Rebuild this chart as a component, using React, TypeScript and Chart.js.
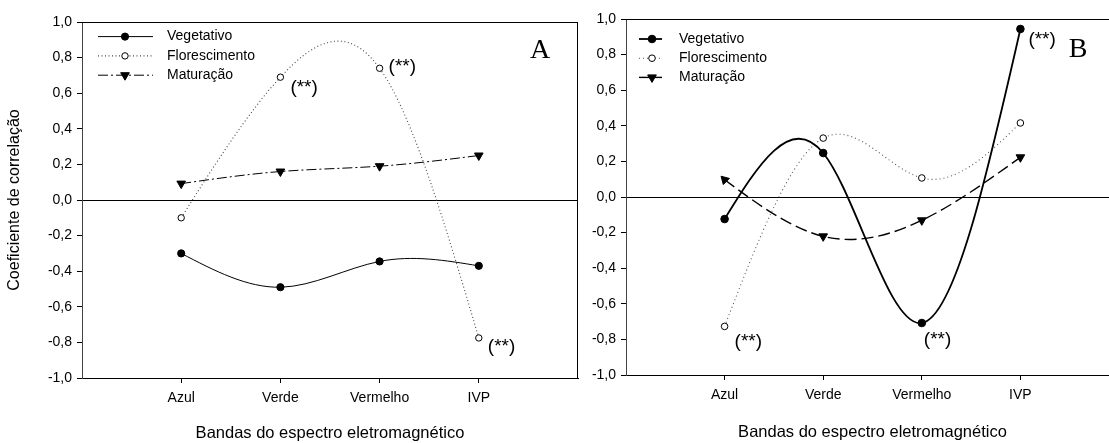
import React, { useEffect, useRef } from 'react';
import { Chart, registerables } from 'chart.js';

Chart.register(...registerables);

// ---------------- data ----------------
const CATEGORIES = ['Azul', 'Verde', 'Vermelho', 'IVP'];
const SERIES_NAMES = ['Vegetativo', 'Florescimento', 'Maturação'];
const Y_TICKS = [-1.0, -0.8, -0.6, -0.4, -0.2, 0.0, 0.2, 0.4, 0.6, 0.8, 1.0];

const A_VEGETATIVO = [-0.30, -0.49, -0.345, -0.37];
const A_FLORESCIMENTO = [-0.10, 0.69, 0.74, -0.775];
const A_MATURACAO = [0.092, 0.16, 0.19, 0.25];

const B_VEGETATIVO = [-0.124, 0.247, -0.708, 0.944];
const B_FLORESCIMENTO = [-0.727, 0.331, 0.107, 0.416];
const B_MATURACAO = [0.097, -0.221, -0.131, 0.223];

// significant points: [series index, category index]
const A_SIGNIFICANT = [[1, 1], [1, 2], [1, 3]];
const B_SIGNIFICANT = [[0, 3], [1, 0], [0, 2]];
const SIGNIF_LABEL = '(**)';

const X_TITLE = 'Bandas do espectro eletromagnético';
const Y_TITLE = 'Coeficiente de correlação';

// ---------------- styles / layout ----------------
const SANS = "'Liberation Sans', Arial, Helvetica, sans-serif";
const SERIF = "'Liberation Serif', 'Times New Roman', serif";

type SeriesStyle = {
  color: string;
  width: number;
  dash: number[];
  legendDash: number[];
  marker: 'circle' | 'triangle';
  radius: number;
  fill: string;
  rotation: number[];
};

type PanelSpec = {
  letter: string;
  series: number[][];
  styles: SeriesStyle[];
  significant: number[][];
  signifOffsets: number[][];
  left: number;
  width: number;
  padTop: number;
  padRight: number;
  yAxisWidth: number;
  xAxisHeight: number;
  xTitlePadBottom: number;
  showYTitle: boolean;
  rightBorder: boolean;
  letterPos: number[];
  legend: { x0: number; x1: number; mx: number; tx: number; y0: number; dy: number };
};

const PANELS: PanelSpec[] = [
  {
    letter: 'A',
    series: [A_VEGETATIVO, A_FLORESCIMENTO, A_MATURACAO],
    styles: [
      { color: '#000', width: 1, dash: [], legendDash: [], marker: 'circle', radius: 3.6, fill: '#000', rotation: [0, 0, 0, 0] },
      { color: '#444', width: 1.1, dash: [1, 2.5], legendDash: [1, 2.5], marker: 'circle', radius: 3.2, fill: '#fff', rotation: [0, 0, 0, 0] },
      { color: '#000', width: 1, dash: [10, 3, 2, 3], legendDash: [10, 3, 2, 3], marker: 'triangle', radius: 5, fill: '#000', rotation: [180, 180, 180, 180] },
    ],
    significant: A_SIGNIFICANT,
    signifOffsets: [[10, 11], [9, -2], [9, 9]],
    left: 0,
    width: 590,
    padTop: 22,
    padRight: 12,
    yAxisWidth: 82,
    xAxisHeight: 65,
    xTitlePadBottom: 0,
    showYTitle: true,
    rightBorder: true,
    letterPos: [458, 29],
    legend: { x0: 16, x1: 71, mx: 43, tx: 85, y0: 14.6, dy: 19.3 },
  },
  {
    letter: 'B',
    series: [B_VEGETATIVO, B_FLORESCIMENTO, B_MATURACAO],
    styles: [
      { color: '#000', width: 1.8, dash: [], legendDash: [], marker: 'circle', radius: 3.8, fill: '#000', rotation: [0, 0, 0, 0] },
      { color: '#555', width: 1.1, dash: [1, 3], legendDash: [1, 3], marker: 'circle', radius: 3.3, fill: '#fff', rotation: [0, 0, 0, 0] },
      { color: '#000', width: 1.4, dash: [12, 5], legendDash: [], marker: 'triangle', radius: 5, fill: '#000', rotation: [315, 180, 180, 180] },
    ],
    significant: B_SIGNIFICANT,
    signifOffsets: [[8, 11], [10, 15], [2, 17]],
    left: 590,
    width: 535,
    padTop: 19,
    padRight: 4,
    yAxisWidth: 36,
    xAxisHeight: 68,
    xTitlePadBottom: 1,
    showYTitle: false,
    rightBorder: false,
    letterPos: [452, 31],
    legend: { x0: 13, x1: 36, mx: 26, tx: 53, y0: 20, dy: 19.2 },
  },
];

const fmt = (v: number) => {
  const r = Math.round(v * 10) / 10;
  return (r === 0 ? 0 : r).toFixed(1).replace('.', ',');
};

// Natural cubic spline (like SigmaPlot's spline curves) -> bezier control points
function applyNaturalSpline(pts: any[]) {
  const n = pts.length;
  if (n < 3) return;
  const x = pts.map((p) => p.x);
  const y = pts.map((p) => p.y);
  const h: number[] = [];
  for (let i = 0; i < n - 1; i++) h.push(x[i + 1] - x[i]);
  // solve tridiagonal for second derivatives M (natural: M0 = Mn-1 = 0)
  const M = new Array(n).fill(0);
  const a: number[] = [], b: number[] = [], c: number[] = [], d: number[] = [];
  for (let i = 1; i < n - 1; i++) {
    a.push(h[i - 1]);
    b.push(2 * (h[i - 1] + h[i]));
    c.push(h[i]);
    d.push(6 * ((y[i + 1] - y[i]) / h[i] - (y[i] - y[i - 1]) / h[i - 1]));
  }
  const m = b.length;
  for (let i = 1; i < m; i++) {
    const w = a[i] / b[i - 1];
    b[i] -= w * c[i - 1];
    d[i] -= w * d[i - 1];
  }
  const sol = new Array(m).fill(0);
  sol[m - 1] = d[m - 1] / b[m - 1];
  for (let i = m - 2; i >= 0; i--) sol[i] = (d[i] - c[i] * sol[i + 1]) / b[i];
  for (let i = 0; i < m; i++) M[i + 1] = sol[i];
  for (let i = 0; i < n - 1; i++) {
    const hi = h[i];
    const slope = (y[i + 1] - y[i]) / hi;
    const d0 = slope - (hi * (2 * M[i] + M[i + 1])) / 6;
    const d1 = slope + (hi * (M[i] + 2 * M[i + 1])) / 6;
    pts[i].cp2x = x[i] + hi / 3;
    pts[i].cp2y = y[i] + (d0 * hi) / 3;
    pts[i + 1].cp1x = x[i + 1] - hi / 3;
    pts[i + 1].cp1y = y[i + 1] - (d1 * hi) / 3;
  }
  pts[0].cp1x = pts[0].x;
  pts[0].cp1y = pts[0].y;
  pts[n - 1].cp2x = pts[n - 1].x;
  pts[n - 1].cp2y = pts[n - 1].y;
}

const splinePlugin = {
  id: 'naturalSpline',
  beforeDatasetsDraw(chart: any) {
    chart.data.datasets.forEach((_: any, i: number) => {
      const meta = chart.getDatasetMeta(i);
      if (!meta.dataset) return;
      applyNaturalSpline(meta.data);
      meta.dataset._pointsUpdated = true;
      meta.dataset._path = undefined;
    });
  },
};

function drawMarker(ctx: CanvasRenderingContext2D, kind: string, x: number, y: number, r: number, fill: string, rotDeg: number) {
  ctx.save();
  ctx.setLineDash([]);
  ctx.beginPath();
  if (kind === 'circle') {
    ctx.arc(x, y, r, 0, Math.PI * 2);
  } else {
    let rad = (rotDeg * Math.PI) / 180;
    ctx.moveTo(x + Math.sin(rad) * r, y - Math.cos(rad) * r);
    rad += (2 * Math.PI) / 3;
    ctx.lineTo(x + Math.sin(rad) * r, y - Math.cos(rad) * r);
    rad += (2 * Math.PI) / 3;
    ctx.lineTo(x + Math.sin(rad) * r, y - Math.cos(rad) * r);
    ctx.closePath();
  }
  ctx.fillStyle = fill;
  ctx.fill();
  ctx.strokeStyle = '#000';
  ctx.lineWidth = 1;
  ctx.stroke();
  ctx.restore();
}

function makeDecor(p: PanelSpec) {
  return {
    id: 'decor' + p.letter,
    afterDraw(chart: any) {
      const { ctx, chartArea: a } = chart;
      ctx.save();
      // frame (top and right)
      ctx.strokeStyle = '#000';
      ctx.lineWidth = 1;
      ctx.setLineDash([]);
      ctx.beginPath();
      const top = Math.round(a.top) + 0.5;
      ctx.moveTo(a.left, top);
      ctx.lineTo(a.right, top);
      if (p.rightBorder) {
        const rx = Math.round(a.right) - 0.5;
        ctx.moveTo(rx, a.top);
        ctx.lineTo(rx, a.bottom);
      }
      ctx.stroke();

      // legend
      const L = p.legend;
      ctx.font = `14px ${SANS}`;
      ctx.textBaseline = 'middle';
      ctx.textAlign = 'left';
      SERIES_NAMES.forEach((name, i) => {
        const st = p.styles[i];
        const y = a.top + L.y0 + i * L.dy;
        ctx.save();
        ctx.strokeStyle = st.color;
        ctx.lineWidth = st.width;
        ctx.setLineDash(st.legendDash);
        ctx.beginPath();
        ctx.moveTo(a.left + L.x0, y);
        ctx.lineTo(a.left + L.x1, y);
        ctx.stroke();
        ctx.restore();
        drawMarker(ctx, st.marker, a.left + L.mx, y, st.radius, st.fill, st.marker === 'triangle' ? 180 : 0);
        ctx.fillStyle = '#000';
        ctx.fillText(name, a.left + L.tx, y);
      });

      // significance labels
      ctx.font = `19px ${SANS}`;
      ctx.fillStyle = '#000';
      p.significant.forEach(([s, idx], k) => {
        const el = chart.getDatasetMeta(s).data[idx];
        const [dx, dy] = p.signifOffsets[k];
        ctx.fillText(SIGNIF_LABEL, el.x + dx, el.y + dy);
      });

      // panel letter
      ctx.font = `28px ${SERIF}`;
      ctx.textAlign = 'center';
      ctx.fillText(p.letter, a.left + p.letterPos[0], a.top + p.letterPos[1]);
      ctx.restore();
    },
  };
}

function makeConfig(p: PanelSpec): any {
  const datasets = p.series.map((vals, si) => {
    const st = p.styles[si];
    return {
      label: SERIES_NAMES[si],
      data: vals.map((v, i) => ({ x: i + 1, y: v })),
      borderColor: st.color,
      borderWidth: st.width,
      borderDash: st.dash,
      tension: 0.4,
      fill: false,
      pointStyle: st.marker,
      pointRadius: st.radius,
      pointBackgroundColor: st.fill,
      pointBorderColor: '#000',
      pointBorderWidth: 1,
      pointRotation: st.rotation,
      clip: false,
    };
  });
  return {
    type: 'line',
    data: { datasets },
    options: {
      animation: false,
      responsive: false,
      events: [],
      layout: { padding: { top: p.padTop, right: p.padRight, left: 0, bottom: 0 } },
      plugins: { legend: { display: false }, tooltip: { enabled: false } },
      scales: {
        x: {
          type: 'linear',
          min: 0,
          max: 5,
          afterBuildTicks: (s: any) => {
            s.ticks = CATEGORIES.map((_, i) => ({ value: i + 1 }));
          },
          afterFit: (s: any) => {
            s.height = p.xAxisHeight;
          },
          ticks: {
            callback: (v: number) => CATEGORIES[Math.round(v) - 1] ?? '',
            font: { family: SANS, size: 14 },
            color: '#000',
            padding: 7,
            maxRotation: 0,
            autoSkip: false,
          },
          grid: { drawOnChartArea: false, tickLength: 5, tickColor: '#000', color: '#000' },
          border: { color: '#000', width: 1 },
          title: {
            display: true,
            text: X_TITLE,
            font: { family: SANS, size: 16.5 },
            color: '#000',
            padding: { top: 0, bottom: p.xTitlePadBottom },
          },
        },
        y: {
          type: 'linear',
          min: -1,
          max: 1,
          afterBuildTicks: (s: any) => {
            s.ticks = Y_TICKS.map((v) => ({ value: v }));
          },
          afterFit: (s: any) => {
            s.width = p.yAxisWidth;
          },
          ticks: {
            callback: (v: number) => fmt(v),
            font: { family: SANS, size: 14 },
            color: '#000',
            padding: 5,
          },
          grid: {
            color: (c: any) => (c.tick && Math.abs(c.tick.value) < 1e-9 ? '#000' : 'rgba(0,0,0,0)'),
            tickColor: '#000',
            tickLength: 5,
            lineWidth: 1,
          },
          border: { color: '#444', width: 1 },
          title: {
            display: p.showYTitle,
            text: Y_TITLE,
            font: { family: SANS, size: 16 },
            color: '#000',
            padding: { top: 5, bottom: 0 },
          },
        },
      },
    },
    plugins: [splinePlugin, makeDecor(p)],
  };
}

function Panel({ spec }: { spec: PanelSpec }) {
  const ref = useRef<HTMLCanvasElement>(null);
  useEffect(() => {
    const chart = new Chart(ref.current as HTMLCanvasElement, makeConfig(spec));
    return () => chart.destroy();
  }, [spec]);
  return (
    <div style={{ position: 'absolute', left: spec.left, top: 0, width: spec.width, height: 443 }}>
      <canvas ref={ref} width={spec.width} height={443} style={{ display: 'block' }} />
    </div>
  );
}

export default function App() {
  return (
    <div
      style={{
        position: 'absolute',
        left: 0,
        top: 0,
        width: 1109,
        height: 443,
        overflow: 'hidden',
        background: '#fff',
      }}
    >
      {PANELS.map((p) => (
        <Panel key={p.letter} spec={p} />
      ))}
    </div>
  );
}
